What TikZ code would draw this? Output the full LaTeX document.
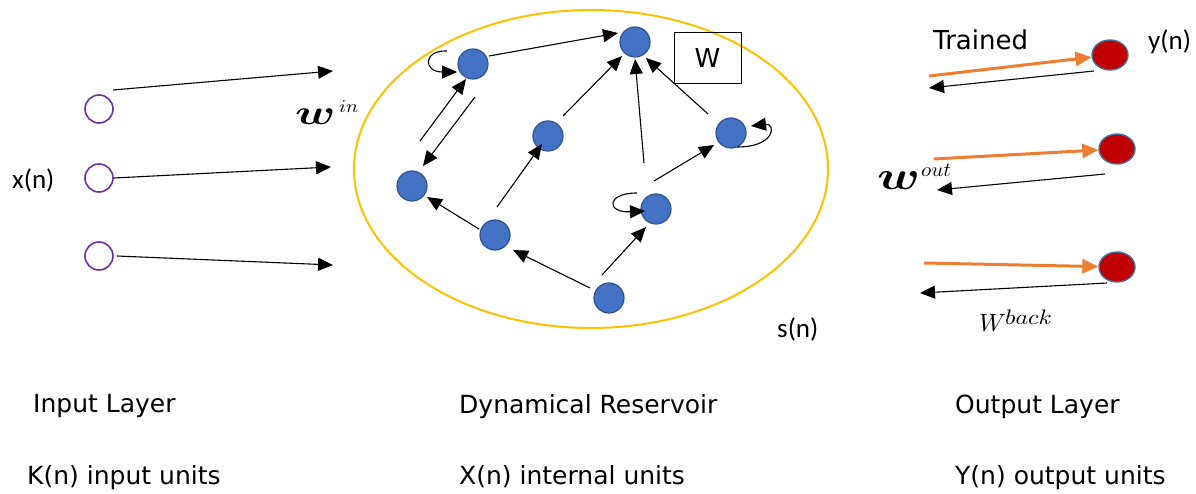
\documentclass[tikz,border=0pt]{standalone}
\usepackage{amsmath}
\usepackage{fontspec}
\setmainfont{DejaVu Sans}
\newfontfamily\calfont{Carlito}
\usetikzlibrary{arrows.meta,shapes.geometric,calc}
\definecolor{resblue}{HTML}{4472C4}
\definecolor{resborder}{HTML}{2F528F}
\definecolor{outred}{HTML}{C00000}
\definecolor{outborder}{HTML}{41719C}
\definecolor{inpurple}{HTML}{7030A0}
\definecolor{orng}{HTML}{ED7D31}
\definecolor{gold}{HTML}{FFC000}
\tikzset{
  res/.style={circle, fill=resblue, draw=resborder, line width=1.2pt, minimum size=30pt, inner sep=0pt},
  inp/.style={circle, draw=inpurple, line width=1.6pt, minimum size=28pt, inner sep=0pt},
  outn/.style={ellipse, fill=outred, draw=outborder, line width=1.4pt, minimum width=36pt, minimum height=30pt, inner sep=0pt},
  arr/.style={-{Triangle[length=15pt,width=13pt]}, line width=1.1pt, black},
  oarr/.style={-{Triangle[length=16pt,width=14pt]}, line width=3pt, draw=orng, color=orng},
  lbl/.style={anchor=base west, inner sep=0pt, font=\fontsize{25}{28}\selectfont},
  clbl/.style={anchor=base west, inner sep=0pt, font=\calfont\fontsize{27}{30}\selectfont},
  mlbl/.style={anchor=base west, inner sep=0pt},
}
\begin{document}
\begin{tikzpicture}[x=1pt,y=-1pt]
\useasboundingbox (0,0) rectangle (1196,494);
% reservoir ellipse
\node[ellipse, draw=gold, line width=2pt, minimum width=474pt, minimum height=318pt, inner sep=0pt] (res) at (591,169) {};
% input units
\node[inp] (i1) at (99,109) {};
\node[inp] (i2) at (99,178) {};
\node[inp] (i3) at (99,256) {};
\coordinate (e1) at (333,71);
\coordinate (e2) at (331,167);
\coordinate (e3) at (333,265);
\draw[arr] ($(i1)+(14,-19)$) -- (e1);
\draw[arr] (i2.east) -- (e2);
\draw[arr] ($(i3.east)+(3,0)$) -- (e3);
% reservoir units
\node[res] (A) at (473,64) {};
\node[res] (B) at (635,42) {};
\node[res] (C) at (412,186) {};
\node[res] (D) at (548,136) {};
\node[res] (E) at (731,133) {};
\node[res] (F) at (495,235) {};
\node[res] (G) at (656,209) {};
\node[res] (H) at (609,298) {};
% reservoir connections
\draw[arr] ($(A)+(16,-8)$) -- ($(B)+(-17,-9)$);
\draw[arr] ($(D)+(15,-20)$) -- ($(B)+(-13,14)$);
\draw[arr] ($(G)+(-12,-46)$) -- ($(B)+(0,17)$);
\draw[arr] ($(E)+(-23,-19)$) -- ($(B)+(11,16)$);
\draw[arr] ($(C)+(8,-45)$) -- ($(A)+(-7,15)$);
\draw[arr] ($(A)+(2,33)$) -- ($(C)+(11,-20)$);
\draw[arr] ($(F)+(2,-28)$) -- ($(D)+(-6,8)$);
\draw[arr] ($(F)+(-16,-6)$) -- ($(C)+(15,11)$);
\draw[arr] ($(H)+(-19,-10)$) -- ($(F)+(18,15)$);
\draw[arr] ($(H)+(-7,-23)$) -- ($(G)+(-10,18)$);
\draw[arr] ($(G)+(-2,-28)$) -- ($(E)+(-17,12)$);
% self loops
\draw[arr] ($(A)+(-26,-13)$) .. controls ($(A)+(-50,-14)$) and ($(A)+(-50,8)$) .. ($(A)+(-16,8)$);
\draw[arr] ($(G)+(-19,-16)$) .. controls ($(G)+(-50,-16)$) and ($(G)+(-50,4)$) .. ($(G)+(-11,2)$);
\draw[arr] ($(E)+(6,14)$) .. controls ($(E)+(45,14)$) and ($(E)+(45,-10)$) .. ($(E)+(20,-7)$);
% W box
\node[draw=black, line width=1pt, minimum width=67pt, minimum height=51pt, inner sep=0pt, font=\fontsize{26}{28}\selectfont] (wbox) at (707.5,58.5) {W};
% output units
\node[outn] (o1) at (1110,55) {};
\node[outn] (o2) at (1117,149) {};
\node[outn] (o3) at (1117,267) {};
\coordinate (s1) at (929,76);
\coordinate (s2) at (934,159);
\coordinate (s3) at (924,263);
\draw[oarr] (s1) -- (o1);
\draw[oarr] (s2) -- (o2);
\draw[oarr] (s3) -- (o3);
\coordinate (b1) at (929,88);
\coordinate (b2) at (937,190);
\coordinate (b3) at (920,293);
\draw[arr] ($(o1)+(-16,16)$) -- (b1);
\draw[arr] ($(o2)+(-12,25)$) -- (b2);
\draw[arr] ($(o3)+(-10,16)$) -- (b3);
% weight labels
\node[mlbl] (win) at (295,125) {\scalebox{4.7}[3.5]{$\boldsymbol{w}$}};
\node[mlbl] (winsup) at (339,113) {\scalebox{2.0}[1.8]{$in$}};
\node[mlbl] (wout) at (877,190) {\scalebox{5.0}[4.0]{$\boldsymbol{w}$}};
\node[mlbl] (woutsup) at (921,177) {\scalebox{2.1}[2.0]{$out$}};
\node[mlbl] (wback) at (979,331) {\scalebox{2.5}[2.5]{$W$}};
\node[mlbl] (wbacksup) at (1005,324) {\scalebox{2.4}[2.1]{$back$}};
% other labels
\node[clbl] (xn) at (12,189) {x(n)};
\node[clbl] (sn) at (777,337) {s(n)};
\node[clbl] (yn) at (1148,50) {y(n)};
\node[lbl, font=\fontsize{26}{28}\selectfont] (trained) at (933,50) {Trained};
\node[lbl] (l1) at (33,412) {Input Layer};
\node[lbl] (l2) at (459,413) {Dynamical Reservoir};
\node[lbl] (l3) at (955,413) {Output Layer};
\node[lbl] (u1) at (27,484) {K(n) input units};
\node[lbl] (u2) at (459,484) {X(n) internal units};
\node[lbl] (u3) at (955,484) {Y(n) output units};
\end{tikzpicture}
\end{document}
